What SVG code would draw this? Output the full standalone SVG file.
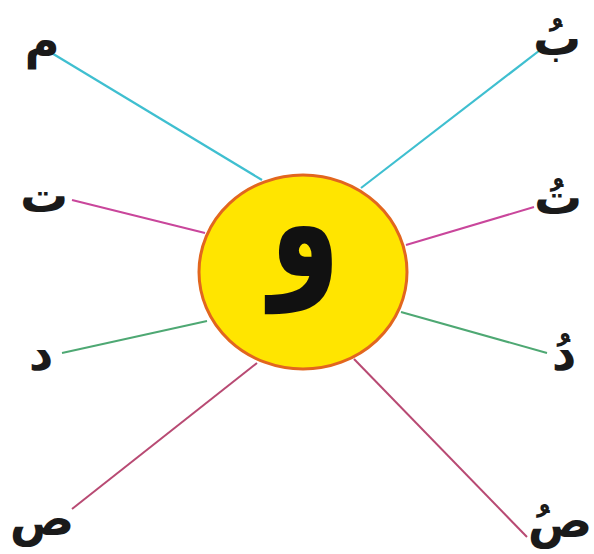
<svg xmlns="http://www.w3.org/2000/svg" width="594" height="554" viewBox="0 0 594 554">
<style>
.c{stroke:#3fbfd0;stroke-width:2.2;fill:none}
.m{stroke:#c9469b;stroke-width:2;fill:none}
.g{stroke:#4ea873;stroke-width:2;fill:none}
.r{stroke:#b84a73;stroke-width:2;fill:none}
.l{font-family:"DejaVu Sans",sans-serif;font-weight:bold;font-size:48px;fill:#1a1a1a;text-anchor:middle}
</style>
<rect width="594" height="554" fill="#ffffff"/>
<g id="connectors">
<line class="c" x1="50" y1="52" x2="262" y2="180"/>
<line class="m" x1="72" y1="200" x2="205" y2="233"/>
<line class="g" x1="62" y1="353" x2="207" y2="321"/>
<line class="r" x1="72" y1="509" x2="257" y2="363"/>
<line class="c" x1="544" y1="47" x2="361" y2="188"/>
<line class="m" x1="534" y1="207" x2="406" y2="245"/>
<line class="g" x1="547" y1="353" x2="401" y2="312"/>
<line class="r" x1="527" y1="537" x2="354" y2="359"/>
</g>
<g id="center">
<ellipse cx="303" cy="272" rx="104" ry="97" fill="#ffe500" stroke="#e2661e" stroke-width="3"/>
<text transform="translate(305 276) scale(0.95 1.3)" x="0" y="0" font-family="DejaVu Sans,sans-serif" font-weight="bold" font-size="120" fill="#111" text-anchor="middle">و</text>
</g>
<g id="n-mim"><text class="l" x="42" y="58">م</text></g>
<g id="n-ta"><text class="l" x="44" y="212">ت</text></g>
<g id="n-dal"><text class="l" x="41" y="370">د</text></g>
<g id="n-sad"><text class="l" x="42" y="535">ص</text></g>
<g id="n-ba-u"><text class="l" x="557" y="55">بُ</text></g>
<g id="n-ta-u"><text class="l" x="558" y="214">تُ</text></g>
<g id="n-dal-u"><text class="l" x="564" y="370">دُ</text></g>
<g id="n-sad-u"><text class="l" x="560" y="537">صُ</text></g>
</svg>
